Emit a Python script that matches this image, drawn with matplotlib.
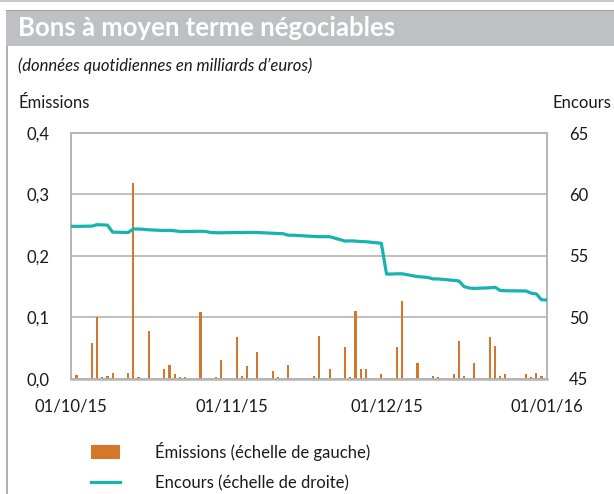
import matplotlib
matplotlib.use("Agg")
import matplotlib.pyplot as plt
from matplotlib.patches import Rectangle, Patch
from matplotlib.lines import Line2D
import pandas as pd

plt.rcParams["font.family"] = ["Lato", "DejaVu Sans"]

# Émissions quotidiennes (milliards d'euros), échelle de gauche
em_dates = [
    "2015-10-02", "2015-10-05", "2015-10-06", "2015-10-07", "2015-10-08", "2015-10-09",
    "2015-10-12", "2015-10-13", "2015-10-14", "2015-10-16", "2015-10-19", "2015-10-20",
    "2015-10-21", "2015-10-22", "2015-10-23", "2015-10-26", "2015-10-29", "2015-10-30",
    "2015-11-02", "2015-11-03", "2015-11-04", "2015-11-06", "2015-11-09", "2015-11-10",
    "2015-11-12", "2015-11-16", "2015-11-17", "2015-11-18", "2015-11-19", "2015-11-20",
    "2015-11-23", "2015-11-24", "2015-11-25", "2015-11-26", "2015-11-27", "2015-11-30",
    "2015-12-01", "2015-12-02", "2015-12-03", "2015-12-04", "2015-12-07", "2015-12-10",
    "2015-12-11", "2015-12-14", "2015-12-15", "2015-12-16", "2015-12-18", "2015-12-21",
    "2015-12-22", "2015-12-23", "2015-12-24", "2015-12-28", "2015-12-29", "2015-12-30",
    "2015-12-31",
]
em_values = [
    0.006, 0.058, 0.100, 0.002, 0.004, 0.010,
    0.009, 0.319, 0.002, 0.077, 0.016, 0.022,
    0.007, 0.002, 0.002, 0.108, 0.003, 0.030,
    0.068, 0.005, 0.021, 0.044, 0.012, 0.003,
    0.023, 0.001, 0.005, 0.069, 0.001, 0.016,
    0.051, 0.003, 0.110, 0.016, 0.015, 0.007,
    0.001, 0.001, 0.051, 0.126, 0.026, 0.005,
    0.002, 0.007, 0.061, 0.005, 0.026, 0.068,
    0.054, 0.004, 0.007, 0.007, 0.003, 0.009,
    0.004,
]

# Encours (milliards d'euros), échelle de droite
enc_dates = [
    "2015-10-01", "2015-10-02", "2015-10-05", "2015-10-06", "2015-10-07", "2015-10-08",
    "2015-10-09", "2015-10-12", "2015-10-13", "2015-10-14", "2015-10-15", "2015-10-16",
    "2015-10-19", "2015-10-20", "2015-10-21", "2015-10-22", "2015-10-23", "2015-10-26",
    "2015-10-27", "2015-10-28", "2015-10-29", "2015-10-30", "2015-11-02", "2015-11-03",
    "2015-11-04", "2015-11-05", "2015-11-06", "2015-11-09", "2015-11-10", "2015-11-11",
    "2015-11-12", "2015-11-13", "2015-11-16", "2015-11-17", "2015-11-18", "2015-11-19",
    "2015-11-20", "2015-11-23", "2015-11-24", "2015-11-25", "2015-11-26", "2015-11-27",
    "2015-11-30", "2015-12-01", "2015-12-02", "2015-12-03", "2015-12-04", "2015-12-07",
    "2015-12-08", "2015-12-09", "2015-12-10", "2015-12-11", "2015-12-14", "2015-12-15",
    "2015-12-16", "2015-12-17", "2015-12-18", "2015-12-21", "2015-12-22", "2015-12-23",
    "2015-12-24", "2015-12-28", "2015-12-29", "2015-12-30", "2015-12-31", "2016-01-01",
]
enc_values = [
    57.41, 57.40, 57.42, 57.54, 57.52, 57.50,
    56.93, 56.90, 57.19, 57.18, 57.16, 57.12,
    57.06, 57.08, 57.04, 56.98, 56.98, 57.00,
    56.98, 56.90, 56.88, 56.88, 56.90, 56.89,
    56.91, 56.91, 56.90, 56.84, 56.82, 56.80,
    56.68, 56.68, 56.60, 56.58, 56.56, 56.56,
    56.56, 56.20, 56.22, 56.20, 56.16, 56.15,
    56.02, 53.52, 53.52, 53.54, 53.54, 53.31,
    53.28, 53.24, 53.12, 53.12, 53.00, 52.96,
    52.50, 52.38, 52.35, 52.40, 52.44, 52.18,
    52.16, 52.14, 51.96, 51.90, 51.42, 51.41,
]

left_ticks = [0.0, 0.1, 0.2, 0.3, 0.4]
left_labels = ["0,0", "0,1", "0,2", "0,3", "0,4"]
right_ticks = [45, 50, 55, 60, 65]
x_ticks = ["2015-10-01", "2015-11-01", "2015-12-01", "2016-01-01"]
x_labels = ["01/10/15", "01/11/15", "01/12/15", "01/01/16"]

ORANGE = "#d4772a"
TEAL = "#17b3ae"
GRID = "#b5b5b5"
TXT = "#1a1a1a"

W, H = 614, 494
fig = plt.figure(figsize=(W / 100, H / 100), dpi=100)

# cadre : filet du haut, filet de gauche, bandeau de titre
fig.add_artist(Rectangle((0, 1 - 2 / H), 1, 2 / H, transform=fig.transFigure,
                         color="#c8c8c8", lw=0))
fig.add_artist(Rectangle((6 / W, 0), 1.6 / W, 1 - 10 / H, transform=fig.transFigure,
                         color="#b0b0b0", lw=0))
fig.add_artist(Rectangle((6 / W, 1 - 46 / H), 1, 36 / H, transform=fig.transFigure,
                         color="#bfc0c3", lw=0))
fig.add_artist(Rectangle((6 / W, 1 - 11 / H), 1, 1.2 / H, transform=fig.transFigure,
                         color="#a0a0a0", lw=0))
fig.text(18 / W, 1 - 28 / H, "Bons à moyen terme négociables", color="white",
         fontsize=18.5, fontweight="bold", va="center", ha="left")
fig.text(18 / W, 1 - 66 / H, "(données quotidiennes en milliards d\u2019euros)",
         color=TXT, fontsize=12, style="italic", va="center", ha="left")
fig.text(18 / W, 1 - 103 / H, "Émissions", color=TXT, fontsize=12, va="center", ha="left")
fig.text(611 / W, 1 - 103 / H, "Encours", color=TXT, fontsize=12, va="center", ha="right")

ax = fig.add_axes([71.3 / W, (H - 378.7) / H, 475.4 / W, 245.7 / H])
ax2 = ax.twinx()

ax.bar(pd.to_datetime(em_dates), em_values, width=0.4, color=ORANGE, zorder=3)
ax2.plot(pd.to_datetime(enc_dates), enc_values, color=TEAL, lw=2.3,
         solid_joinstyle="round", zorder=4)

ax.set_xlim(pd.Timestamp("2015-10-01"), pd.Timestamp("2016-01-01"))
ax.set_ylim(0, 0.4)
ax2.set_ylim(45, 65)

ax.set_yticks(left_ticks)
ax.set_yticklabels(left_labels)
ax2.set_yticks(right_ticks)
ax2.set_yticklabels([str(v) for v in right_ticks])
ax.set_xticks(pd.to_datetime(x_ticks))
ax.set_xticklabels(x_labels)

ax.grid(axis="y", color=GRID, lw=1.2, zorder=0)
ax.set_axisbelow(True)
for a in (ax, ax2):
    for s in a.spines.values():
        s.set_color(GRID)
        s.set_linewidth(1.2)
    a.tick_params(length=0, labelsize=12, labelcolor=TXT)
ax.spines["bottom"].set_linewidth(1.8)
ax.tick_params(axis="y", pad=16)
ax2.tick_params(axis="y", pad=16)
ax.tick_params(axis="x", pad=14)

handles = [Patch(facecolor=ORANGE, edgecolor="none"),
           Line2D([0], [0], color=TEAL, lw=2.3)]
fig.legend(handles, ["Émissions (échelle de gauche)", "Encours (échelle de droite)"],
           loc="upper left", bbox_to_anchor=(76 / W, 1 - 427 / H), frameon=False,
           fontsize=12, handlelength=1.75, handleheight=0.95, handletextpad=2.1,
           labelspacing=0.85, labelcolor=TXT)

fig.savefig("out.png", dpi=100)
